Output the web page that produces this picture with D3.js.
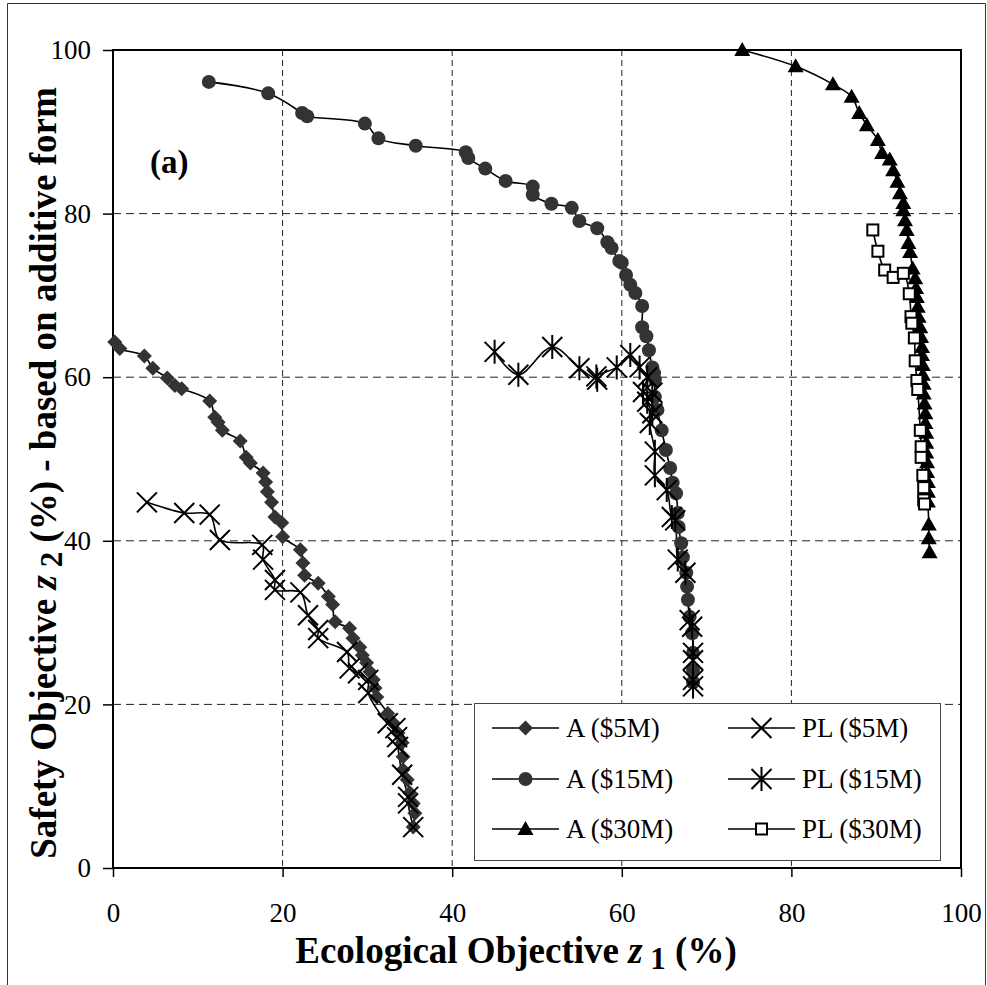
<!DOCTYPE html>
<html><head><meta charset="utf-8">
<script src="https://cdn.jsdelivr.net/npm/d3@7"></script>
<style>body{margin:0;background:#fff}svg{display:block}text{font-family:"Liberation Serif","Times New Roman",serif}</style>
</head><body><svg id="c" width="987" height="985"></svg>
<script>
const xTicks=[0,20,40,60,80,100];
const yTicks=[0,20,40,60,80,100];
const seriesNames=["A ($5M)","A ($15M)","A ($30M)","PL ($5M)","PL ($15M)","PL ($30M)"];
const a5=[[0.2,64.3],[0.8,63.5],[3.7,62.6],[4.7,61.1],[6.4,59.9],[7.3,59.0],[8.1,58.6],[11.4,57.1],[12.0,55.1],[12.4,54.5],[12.9,53.5],[15.0,52.2],[15.7,50.2],[16.2,49.5],[17.7,48.3],[18.0,47.2],[18.2,46.0],[18.7,44.7],[19.1,42.9],[19.9,42.2],[20.0,40.5],[22.1,38.9],[22.4,37.3],[22.6,35.8],[24.2,34.8],[25.4,33.2],[25.9,32.2],[26.2,30.1],[27.9,29.3],[28.3,28.1],[29.1,27.0],[29.4,26.0],[29.9,25.1],[30.3,24.0],[30.7,23.0],[30.9,22.0],[31.1,20.9],[32.4,18.9],[33.0,17.8],[33.6,16.5],[34.1,15.3],[34.2,13.6],[34.2,12.0],[34.7,10.8],[35.0,9.2],[35.4,7.9],[35.6,6.7],[35.4,5.0]];
const pl5=[[4.0,44.7],[8.4,43.4],[11.4,43.2],[12.6,40.1],[17.6,39.5],[17.7,37.7],[19.1,35.2],[19.1,34.0],[22.1,33.7],[23.0,30.9],[24.2,29.1],[24.2,28.1],[27.6,26.4],[27.9,24.4],[28.9,23.8],[30.1,23.0],[30.1,21.4],[32.4,17.7],[33.3,17.1],[33.5,16.0],[33.6,14.8],[34.1,11.4],[34.8,8.7],[34.8,7.9],[35.4,5.0]];
const a15=[[11.3,96.1],[18.3,94.7],[22.3,92.3],[22.9,91.9],[29.7,91.0],[31.3,89.2],[35.7,88.3],[41.6,87.5],[41.9,86.8],[43.9,85.5],[46.3,84.0],[49.5,83.3],[49.5,82.3],[51.7,81.2],[54.1,80.7],[55.0,79.1],[57.1,78.2],[58.3,76.5],[58.8,75.8],[59.7,74.2],[60.0,74.0],[60.5,72.5],[61.0,71.3],[61.6,70.3],[62.4,68.7],[62.4,66.1],[62.9,65.0],[63.2,63.3],[63.6,61.2],[63.8,60.5],[63.9,59.7],[63.9,57.6],[64.2,56.0],[64.7,53.5],[65.2,51.1],[65.7,48.9],[66.0,47.1],[66.4,45.8],[66.6,43.4],[66.7,41.7],[67.0,39.7],[67.2,38.0],[67.6,36.1],[67.7,34.4],[67.8,32.8],[68.0,30.7],[68.3,28.7],[68.4,26.3],[68.4,24.2],[68.4,22.7]];
const pl15=[[45.0,63.1],[47.8,60.3],[51.8,63.7],[55.0,61.1],[57.1,59.7],[57.0,60.1],[59.4,61.2],[61.0,62.7],[62.1,61.2],[63.0,60.0],[62.5,58.2],[63.6,58.1],[63.0,57.0],[63.6,55.6],[63.3,54.4],[63.9,50.9],[63.9,48.0],[65.3,46.2],[65.9,42.9],[66.3,42.5],[66.6,37.7],[67.5,36.1],[68.0,30.3],[68.3,29.5],[68.4,26.3],[68.4,25.4],[68.4,23.0],[68.4,22.2]];
const a30=[[74.2,100],[80.5,98.0],[84.9,95.8],[87.1,94.3],[88.0,92.3],[88.9,90.8],[90.2,89.0],[90.7,87.4],[91.6,86.6],[92.0,85.3],[92.5,83.9],[92.8,82.5],[93.2,81.3],[93.2,80.4],[93.4,79.2],[93.6,78.0],[93.8,76.4],[94.0,75.3],[94.3,73.3],[94.6,72.1],[94.7,70.9],[94.8,69.8],[94.9,68.6],[95.0,67.4],[95.2,66.1],[95.3,64.9],[95.4,63.7],[95.4,62.7],[95.5,61.5],[95.5,60.3],[95.6,59.2],[95.6,58.0],[95.7,56.8],[95.8,55.6],[95.8,54.4],[95.9,53.2],[95.9,52.0],[95.9,50.8],[96.0,49.6],[96.0,48.4],[96.1,47.2],[96.1,46.0],[96.1,44.8],[96.2,42.0],[96.2,40.3],[96.3,38.6]];
const pl30=[[89.6,78.0],[90.2,75.4],[91.0,73.1],[92.0,72.2],[93.2,72.7],[93.9,70.2],[94.1,67.4],[94.2,66.6],[94.5,64.8],[94.6,62.0],[94.8,59.6],[94.9,58.5],[95.2,53.5],[95.3,51.5],[95.3,50.2],[95.5,48.0],[95.6,46.5],[95.6,45.0],[95.7,44.5]];

const svg=d3.select("#c");
const L=113,R=961,T=50,B=868;
const x=d3.scaleLinear().domain([0,100]).range([L,R]);
const y=d3.scaleLinear().domain([0,100]).range([B,T]);
const FF="'Liberation Serif','Times New Roman',serif";

// outer frame
svg.append("path").attr("d","M7.5,990 V3.5 H985.5 V990").attr("fill","none").attr("stroke","#333").attr("stroke-width",1);

// grid
const g=svg.append("g");
g.selectAll(".vg").data(xTicks.filter(d=>d>0&&d<100)).enter().append("line")
 .attr("x1",d=>x(d)).attr("x2",d=>x(d)).attr("y1",T).attr("y2",B)
 .attr("stroke","#222").attr("stroke-width",1).attr("stroke-dasharray","6,4");
g.selectAll(".hg").data(yTicks.filter(d=>d>0&&d<100)).enter().append("line")
 .attr("x1",L).attr("x2",R).attr("y1",d=>y(d)).attr("y2",d=>y(d))
 .attr("stroke","#222").attr("stroke-width",1).attr("stroke-dasharray","8,5");

// axes
const xa=svg.append("g").attr("transform",`translate(0,${B})`).call(d3.axisBottom(x).tickValues(xTicks).tickSize(9).tickPadding(26).tickFormat(d3.format("d")));
const ya=svg.append("g").attr("transform",`translate(${L},0)`).call(d3.axisLeft(y).tickValues(yTicks).tickSize(10).tickPadding(12).tickFormat(d3.format("d")));
[xa,ya].forEach(a=>{a.select(".domain").remove();a.selectAll("line").attr("stroke","#000").attr("stroke-width",1.5);a.selectAll("text").attr("font-family",FF).attr("font-size",27).attr("fill","#000");});
// plot frame
svg.append("rect").attr("x",L).attr("y",T).attr("width",R-L).attr("height",B-T).attr("fill","none").attr("stroke","#000").attr("stroke-width",2);

// series
const line=d3.line().x(d=>x(d[0])).y(d=>y(d[1])).curve(d3.curveCatmullRom.alpha(0.5));
const plots=svg.append("g");
const all=[a5,a15,a30,pl5,pl15,pl30];
all.forEach(s=>plots.append("path").attr("d",line(s)).attr("fill","none").attr("stroke","#000").attr("stroke-width",1.6));

function marker(sel,type){
  if(type==="diamond") sel.append("path").attr("d","M0,-7.5L7.5,0L0,7.5L-7.5,0Z").attr("fill","#333");
  else if(type==="circle") sel.append("circle").attr("r",7).attr("fill","#333");
  else if(type==="tri") sel.append("path").attr("d","M0,-8L8,6L-8,6Z").attr("fill","#000");
  else if(type==="x") sel.append("path").attr("d","M-10,-10L10,10M-10,10L10,-10").attr("stroke","#000").attr("stroke-width",2).attr("fill","none");
  else if(type==="ast") sel.append("path").attr("d","M-10,-10L10,10M-10,10L10,-10M0,-12V12").attr("stroke","#000").attr("stroke-width",2).attr("fill","none");
  else if(type==="sq") sel.append("rect").attr("x",-5.5).attr("y",-5.5).attr("width",11).attr("height",11).attr("fill","#fff").attr("stroke","#000").attr("stroke-width",2);
}
const types=["diamond","circle","tri","x","ast","sq"];
all.forEach((s,i)=>{
  plots.selectAll(null).data(s).enter().append("g").attr("transform",d=>`translate(${x(d[0])},${y(d[1])})`).each(function(){marker(d3.select(this),types[i]);});
});

// legend
const lg=svg.append("g");
lg.append("rect").attr("x",474.5).attr("y",703.5).attr("width",466).attr("height",157).attr("fill","#fff").attr("stroke","#444").attr("stroke-width",1);
const rows=[728,779,829];
seriesNames.forEach((n,i)=>{
  const col=i<3?0:1, r=i%3;
  const lx=col?728:492, tx=col?802:566, yy=rows[r];
  lg.append("line").attr("x1",lx).attr("x2",lx+67).attr("y1",yy).attr("y2",yy).attr("stroke","#000").attr("stroke-width",1.6);
  const m=lg.append("g").attr("transform",`translate(${lx+33.5},${yy})`);marker(m,types[i]);
  lg.append("text").attr("x",tx).attr("y",yy+9).attr("font-family",FF).attr("font-size",27).text(n);
});

// labels
svg.append("text").attr("x",150).attr("y",173).attr("font-family",FF).attr("font-size",33).attr("font-weight","bold").text("(a)");
const xt=svg.append("text").attr("x",516).attr("y",963).attr("text-anchor","middle").attr("font-family",FF).attr("font-size",37).attr("font-weight","bold");
xt.append("tspan").text("Ecological Objective ");
xt.append("tspan").attr("font-style","italic").text("z");
xt.append("tspan").attr("dy",6).attr("font-size",31).text(" 1");
xt.append("tspan").attr("dy",-6).text(" (%)");
const yt=svg.append("text").attr("transform","translate(56,473) rotate(-90)").attr("text-anchor","middle").attr("font-family",FF).attr("font-size",37).attr("font-weight","bold");
yt.append("tspan").text("Safety Objective ");
yt.append("tspan").attr("font-style","italic").text("z");
yt.append("tspan").attr("dy",6).attr("font-size",31).text(" 2");
yt.append("tspan").attr("dy",-6).text(" (%) - based on additive form");
</script></body></html>
